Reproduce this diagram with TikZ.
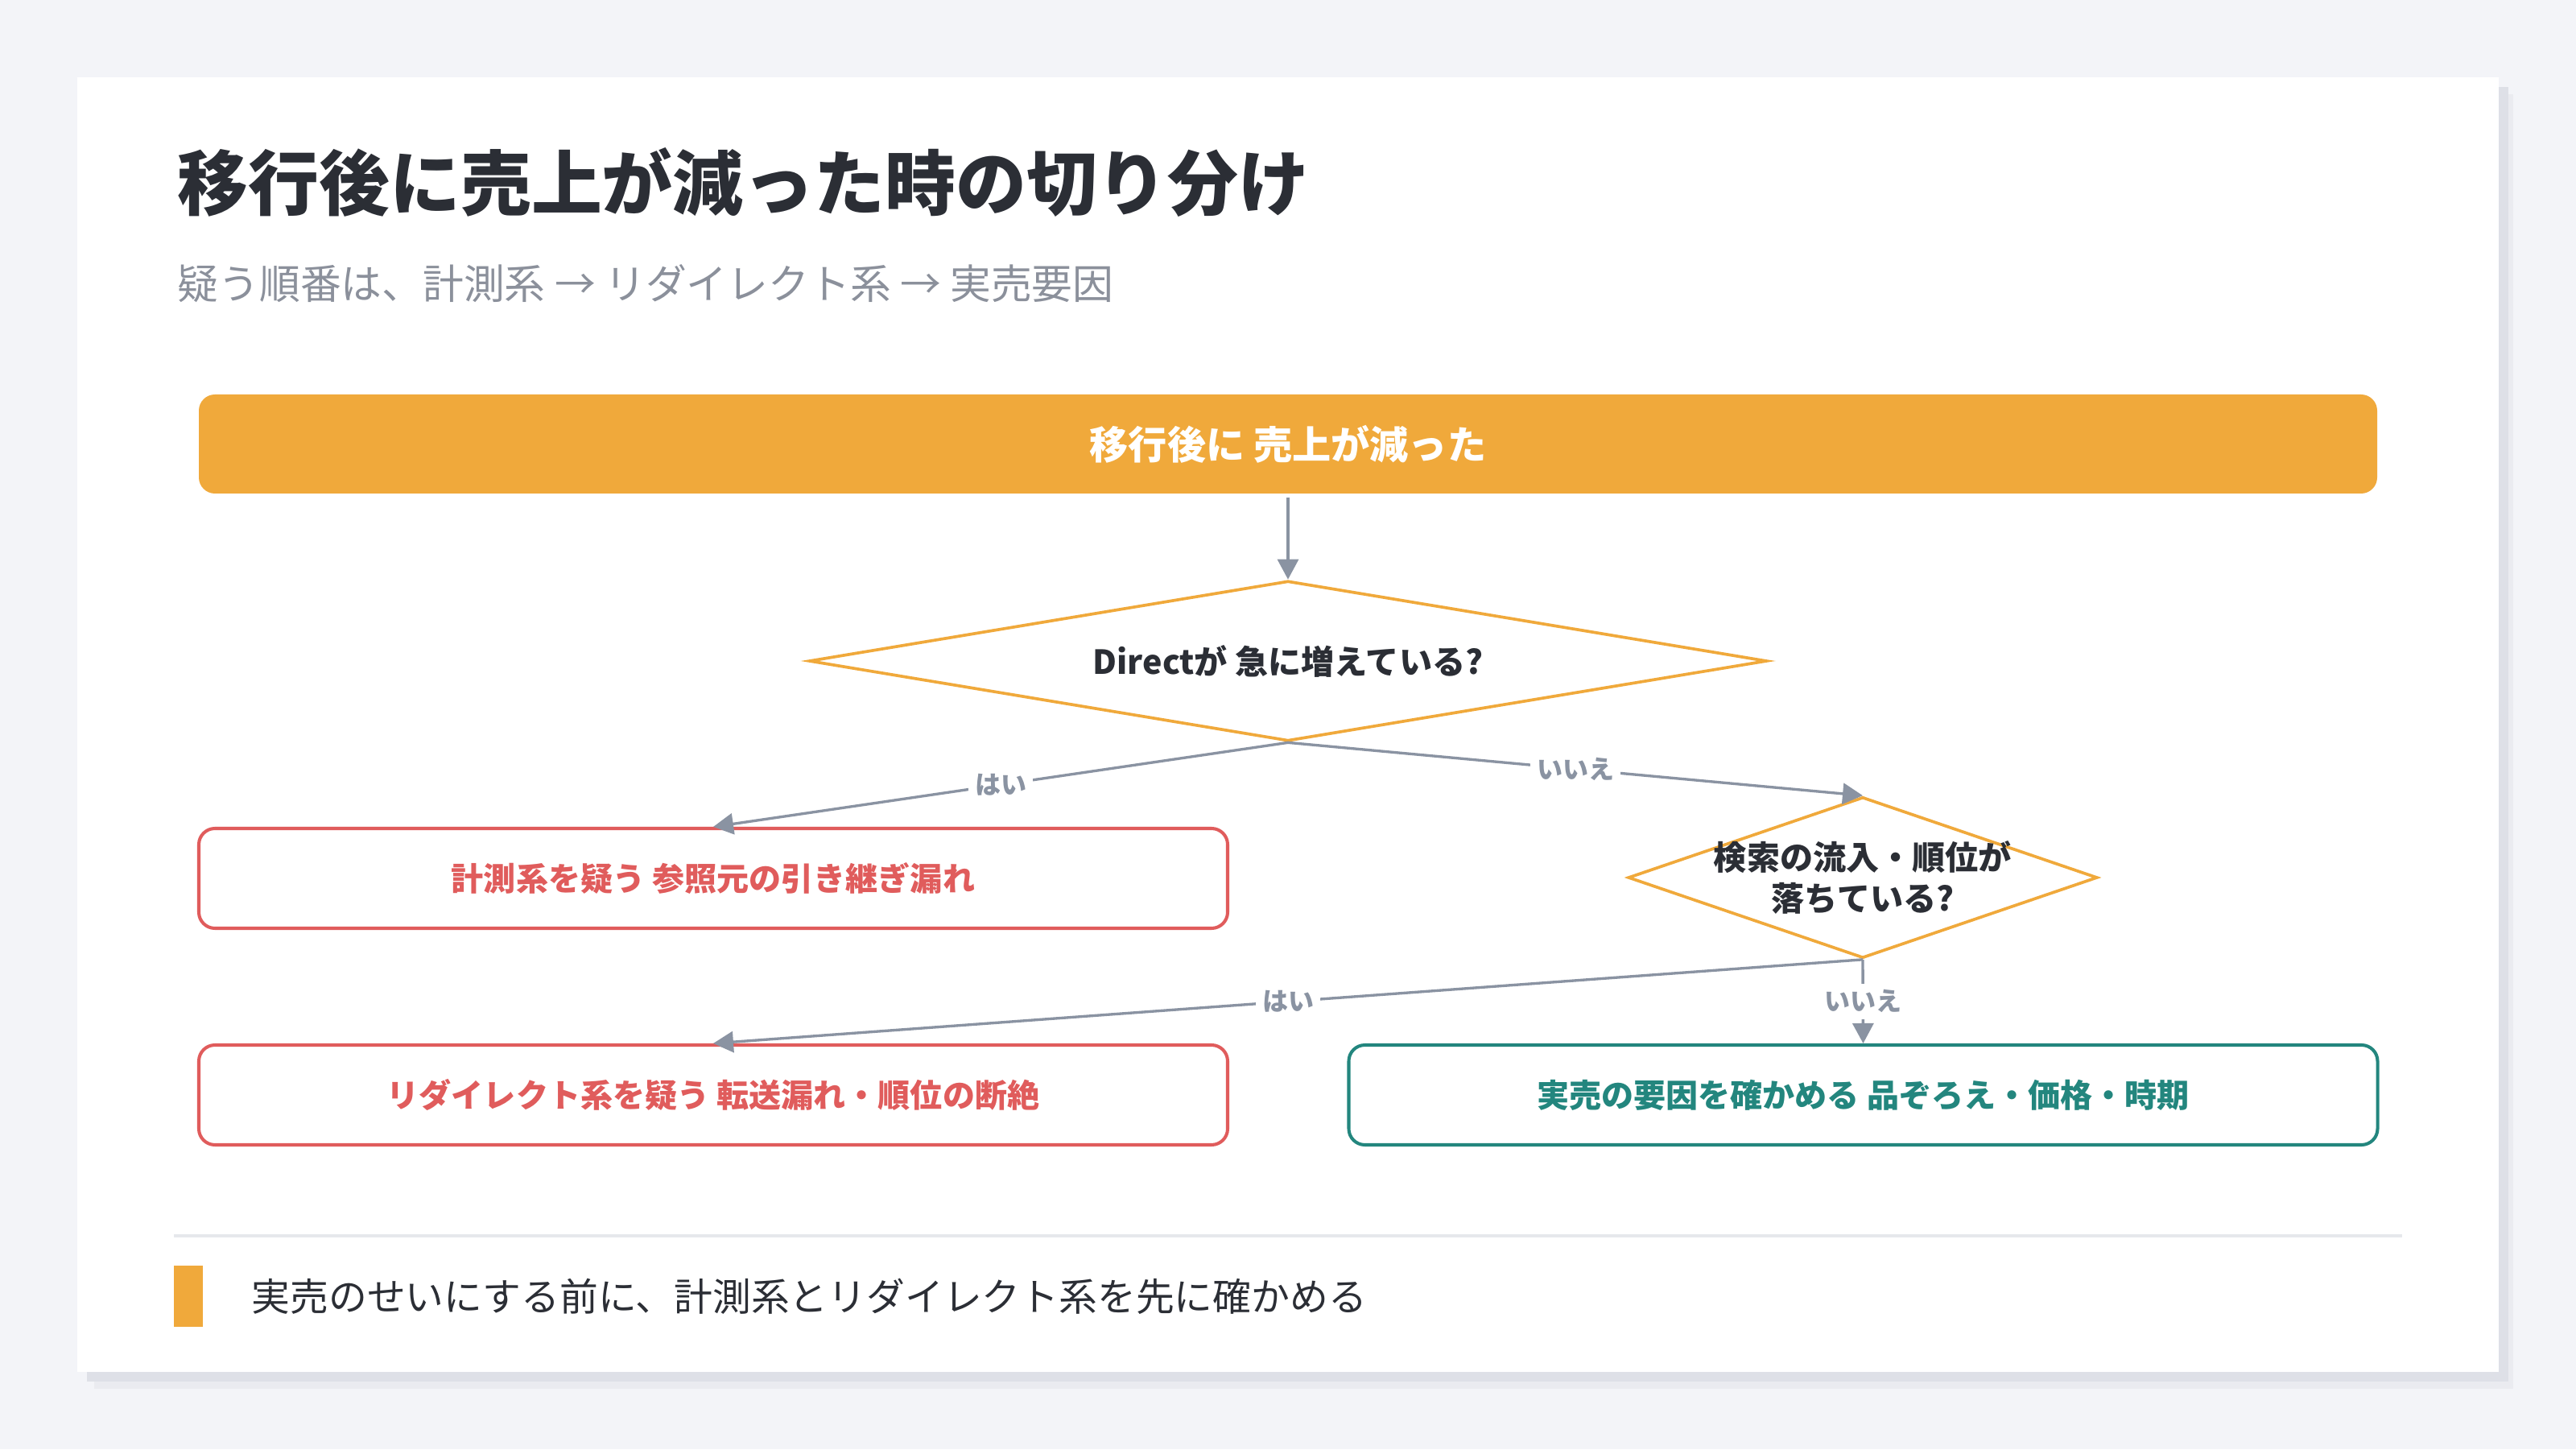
\documentclass[tikz,border=0pt]{standalone}
\usepackage{fontspec}
\setmainfont{Noto Sans CJK JP}
\usetikzlibrary{arrows.meta,shapes.geometric}
\definecolor{bg_grey}{RGB}{243, 244, 248}
\definecolor{shadow_dark}{RGB}{222, 224, 231}
\definecolor{shadow_light}{RGB}{234, 235, 240}
\definecolor{ink}{RGB}{43, 46, 53}
\definecolor{sub_grey}{RGB}{139, 144, 155}
\definecolor{line_grey}{RGB}{138, 147, 162}
\definecolor{sep_grey}{RGB}{230, 232, 236}
\definecolor{warn_orange}{RGB}{240, 169, 59}
\definecolor{alert_red}{RGB}{224, 92, 92}
\definecolor{ok_teal}{RGB}{35, 134, 126}
\tikzstyle{ob}=[rectangle,rounded corners=0.2cm,fill=warn_orange,draw=none,
  minimum width=27.06cm,minimum height=1.23cm,text=white,
  font=\bfseries\fontsize{13.7}{16}\selectfont]
\tikzstyle{dm}=[diamond,draw=warn_orange,line width=1.05pt,fill=white,inner sep=0pt]
\tikzstyle{dmtext}=[text=ink,align=center,font=\bfseries\fontsize{11.7}{14.5}\selectfont]
\tikzstyle{rb}=[rectangle,rounded corners=0.2cm,draw=alert_red,line width=1.15pt,
  minimum width=12.78cm,minimum height=1.24cm,text=alert_red,
  font=\bfseries\fontsize{11.4}{14}\selectfont]
\tikzstyle{tb}=[rb,draw=ok_teal,text=ok_teal]
\tikzstyle{yn}=[fill=white,text=line_grey,inner sep=0.08cm,
  font=\bfseries\fontsize{9.1}{11}\selectfont]
\tikzstyle{ar}=[draw=line_grey,line width=0.95pt,-{Triangle[length=0.25cm,width=0.26cm]}]
\tikzstyle{none}=[inner sep=0pt,anchor=west]

\begin{document}
\begin{tikzpicture}
    \useasboundingbox (0, 0) rectangle (32, 18);
    \fill [bg_grey] (0, 0) rectangle (32, 18);
    \fill [shadow_light] (1.17, 0.75) rectangle (31.22, 16.83);
    \fill [shadow_dark] (1.08, 0.84) rectangle (31.16, 16.92);
    \fill [white] (0.96, 0.96) rectangle (31.04, 17.04);

    \node [style=none, text=ink, font=\bfseries\fontsize{25}{30}\selectfont] (t0) at (2.2, 15.73) {移行後に売上が減った時の切り分け};
    \node [style=none, text=sub_grey, font=\fontsize{14.45}{17}\selectfont] (t1) at (2.2, 14.48) {疑う順番は、計測系 → リダイレクト系 → 実売要因};

    \node [style=ob] (0) at (16, 12.485) {移行後に 売上が減った};
    \node [style=dm, minimum width=11.9cm, minimum height=1.99cm, aspect=6,
      label={[dmtext]center:Directが 急に増えている?}] (1) at (16, 9.79) {};
    \node [style=dm, minimum width=5.83cm, minimum height=2cm, aspect=2.9,
      label={[dmtext]center:検索の流入・順位が\\落ちている?}] (2) at (23.14, 7.1) {};
    \node [style=rb] (3) at (8.86, 7.09) {計測系を疑う 参照元の引き継ぎ漏れ};
    \node [style=rb] (4) at (8.86, 4.4) {リダイレクト系を疑う 転送漏れ・順位の断絶};
    \node [style=tb] (5) at (23.145, 4.4) {実売の要因を確かめる 品ぞろえ・価格・時期};

    \draw [style=ar, shorten <=0.04cm] (0) to (1.north);
    \draw [style=ar] (1.south) to node [style=yn] {はい} (3.north);
    \draw [style=ar] (1.south) to node [style=yn] {いいえ} (2.north);
    \draw [style=ar] (2.south) to node [style=yn] {はい} (4.north);
    \draw [style=ar] (2.south) to node [style=yn] {いいえ} (5.north);

    \draw [sep_grey, line width=1.1pt] (2.16, 2.65) to (29.84, 2.65);
    \fill [warn_orange] (2.16, 1.52) rectangle (2.52, 2.28);
    \node [style=none, text=ink, font=\fontsize{13.6}{16}\selectfont] (t2) at (3.12, 1.9) {実売のせいにする前に、計測系とリダイレクト系を先に確かめる};
\end{tikzpicture}
\end{document}
